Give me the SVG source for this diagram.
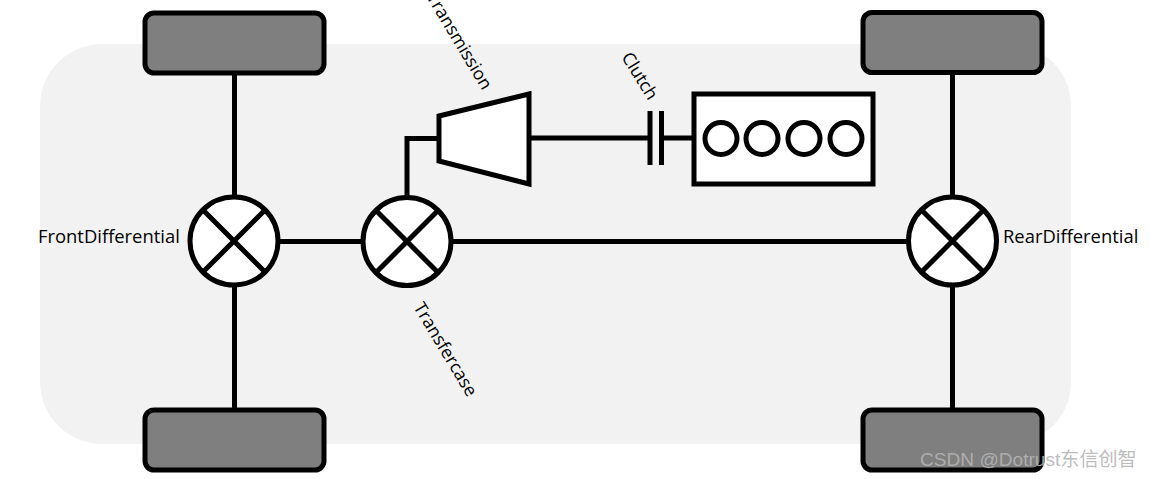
<svg xmlns="http://www.w3.org/2000/svg" width="1150" height="479" viewBox="0 0 1150 479">
<style>
.s{stroke:#000;stroke-width:5;fill:none}
.wheel{fill:#7f7f7f;stroke:#000;stroke-width:5}
.w{fill:#fff;stroke:#000;stroke-width:5}
.t{font-family:"Open Sans","Noto Sans",sans-serif;font-size:18.4px;fill:#000}
.r{font-size:17.7px}
</style>
<rect id="body" x="40" y="44" width="1031" height="400" rx="62" ry="62" fill="#f2f2f2"/>
<g id="connectors">
<path class="s" d="M234.500 73V197M234.500 285V410M952.500 72V197M952.500 285V410M278 241.500H363M451 241.500H908M407 197V138.500H439M529 138H650M661 138H694"/>
</g>
<g id="wheel-fl"><rect class="wheel" x="145" y="13" width="179" height="60" rx="9"/></g>
<g id="wheel-fr"><rect class="wheel" x="863" y="12.500" width="179" height="60" rx="9"/></g>
<g id="wheel-rl"><rect class="wheel" x="145" y="410" width="179" height="60" rx="9"/></g>
<g id="wheel-rr"><rect class="wheel" x="863" y="410" width="179" height="60" rx="9"/></g>
<g id="front-differential">
<circle class="w" cx="234" cy="241" r="44"/>
<path class="s" d="M203 210L265 272M265 210L203 272"/>
<text class="t" x="38" y="243">FrontDifferential</text>
</g>
<g id="transfercase">
<circle class="w" cx="407" cy="241.500" r="44"/>
<path class="s" d="M376 210.500L438 272.500M438 210.500L376 272.500"/>
<text class="t r" transform="translate(413 307) rotate(59)">Transfercase</text>
</g>
<g id="rear-differential">
<circle class="w" cx="952.500" cy="241" r="44"/>
<path class="s" d="M921.500 210L983.500 272M983.500 210L921.500 272"/>
<text class="t" x="1003" y="243">RearDifferential</text>
</g>
<g id="transmission">
<polygon class="w" points="439,116 529,94 529,184 439,161"/>
<text class="t r" transform="translate(426 -3) rotate(59)">Transmission</text>
</g>
<g id="clutch">
<path class="s" d="M650 111V165M661.500 111V165"/>
<text class="t r" transform="translate(621 57) rotate(58)">Clutch</text>
</g>
<g id="engine">
<rect class="w" x="694" y="94" width="179" height="90"/>
<circle class="w" cx="721" cy="138.500" r="16"/>
<circle class="w" cx="762" cy="138.500" r="16"/>
<circle class="w" cx="804" cy="138.500" r="16"/>
<circle class="w" cx="846" cy="138.500" r="16"/>
</g>
<text id="watermark" x="920" y="466" font-family="'Liberation Sans','Noto Sans CJK SC',sans-serif" font-size="19.100" fill="#b4b4b4" fill-opacity="0.9">CSDN @Dotrust东信创智</text>
</svg>
